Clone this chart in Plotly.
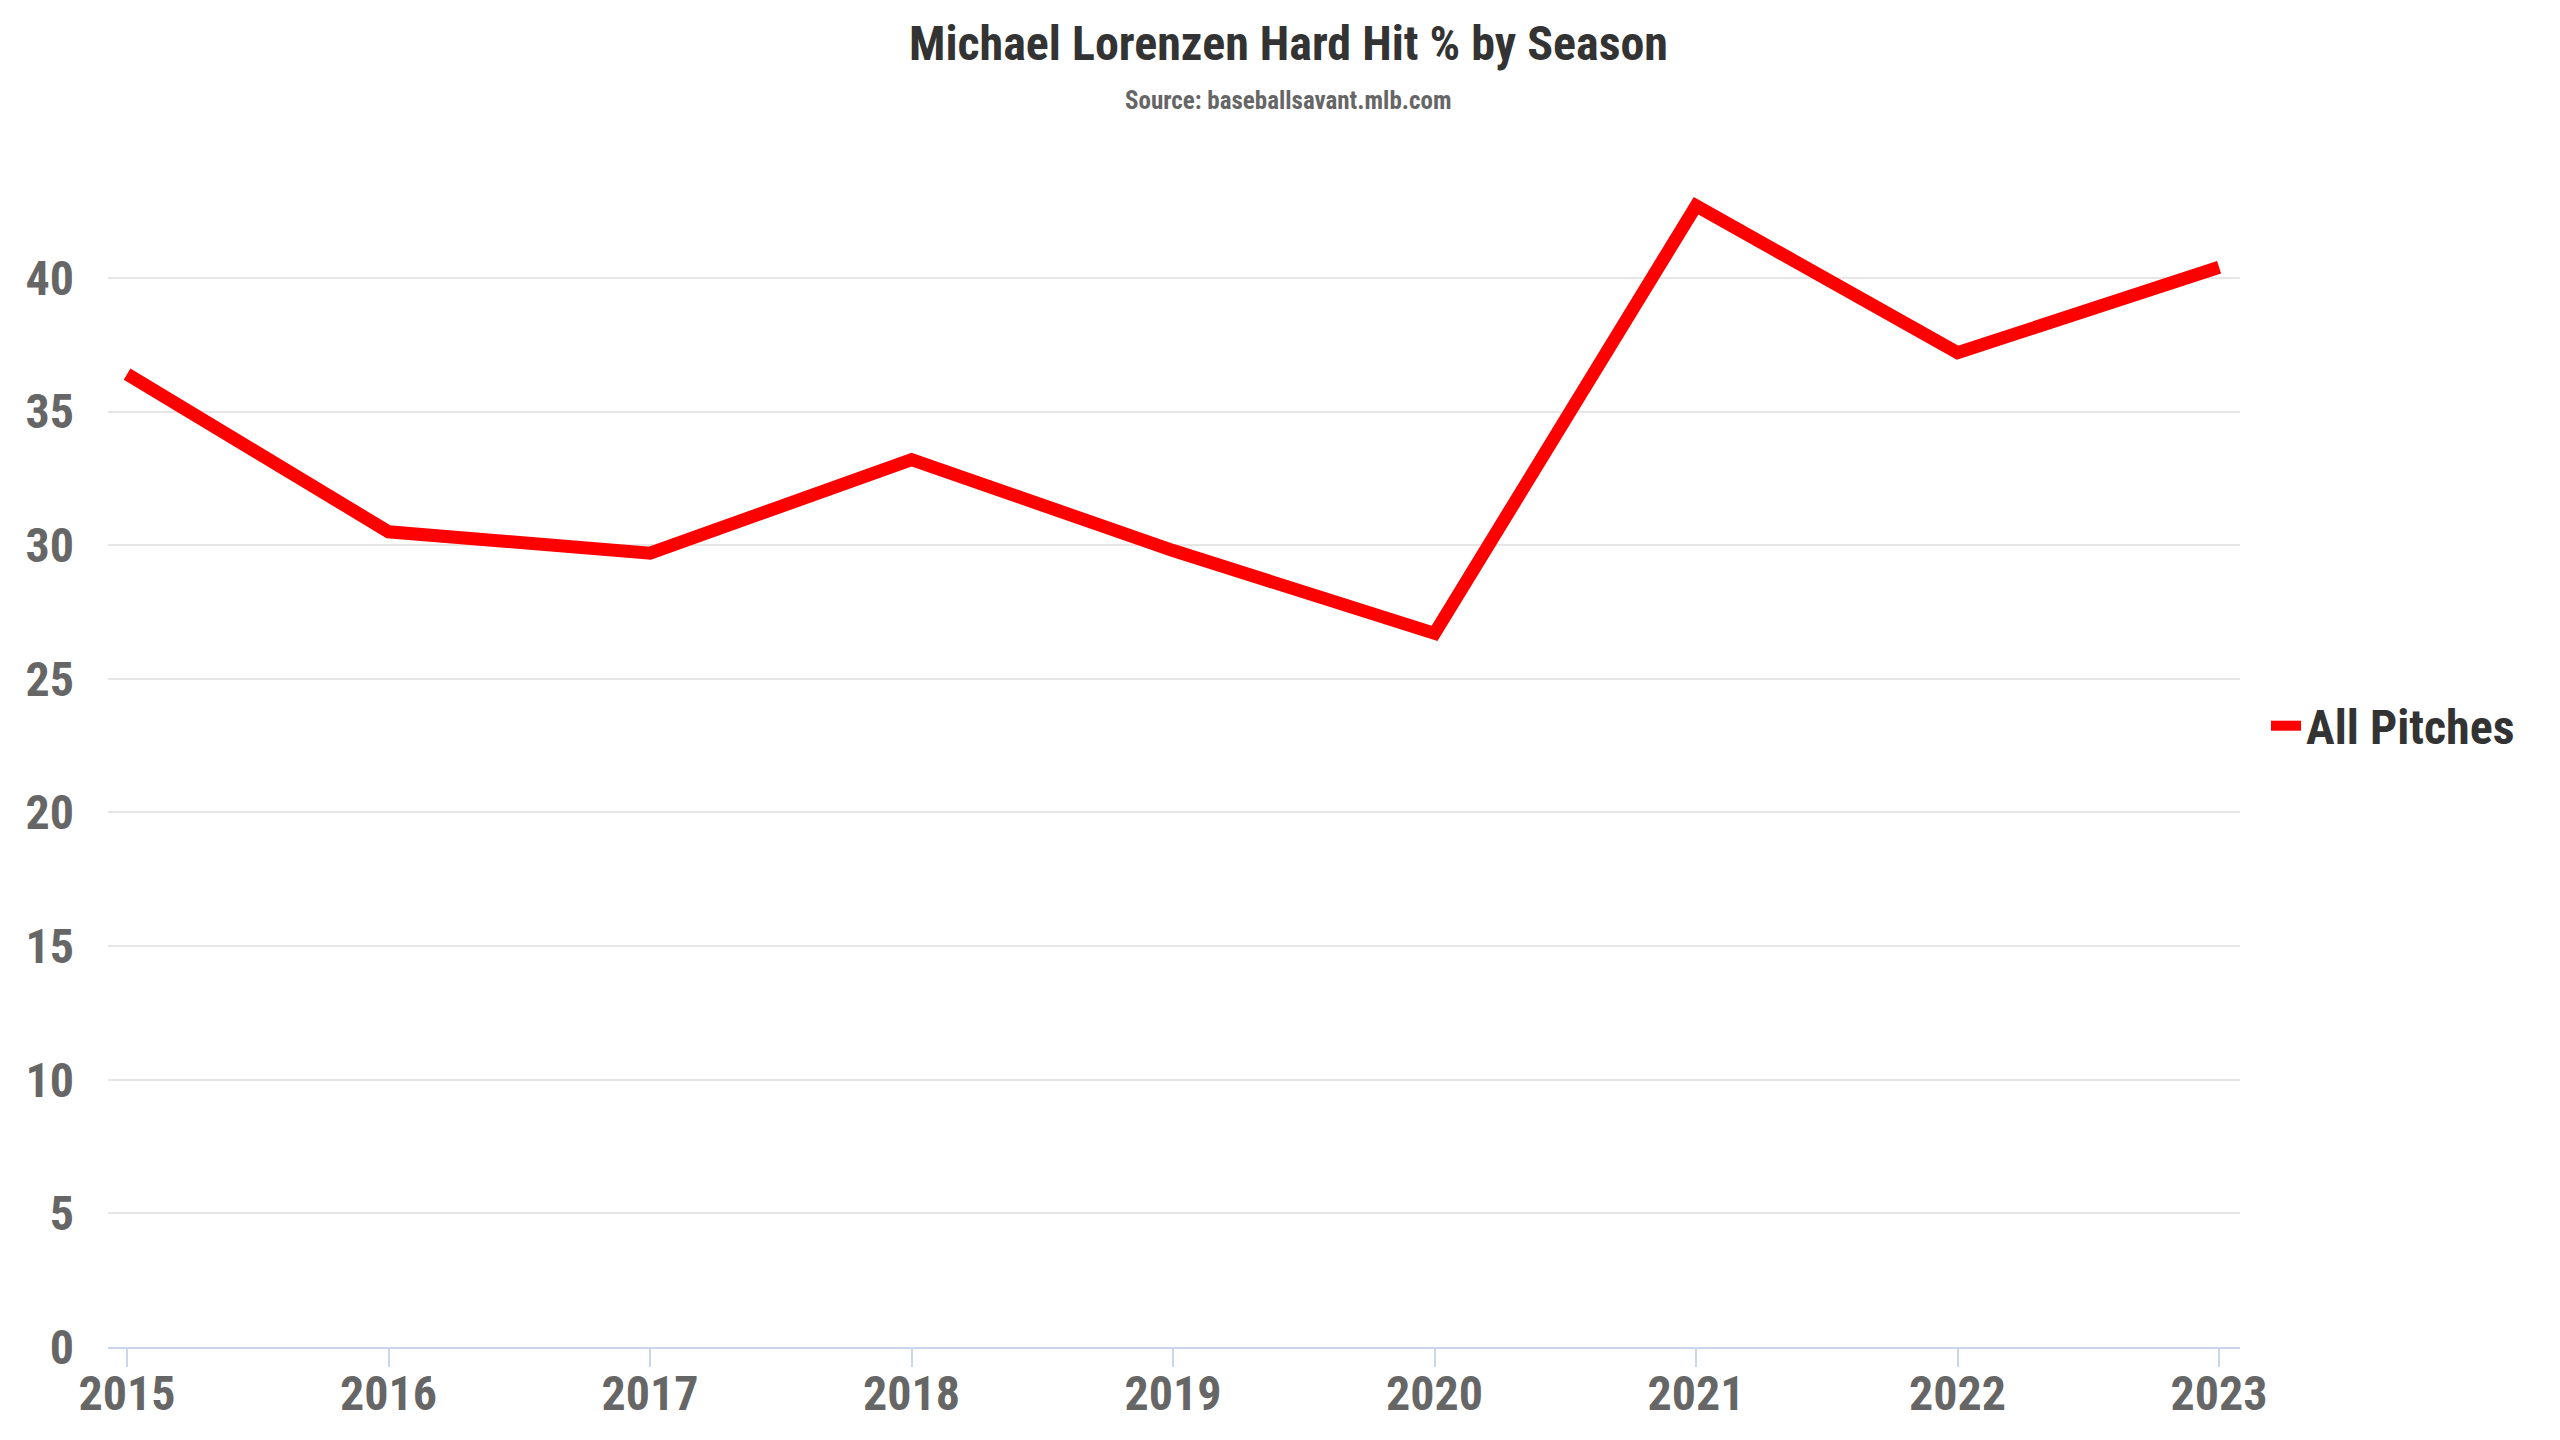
import plotly.graph_objects as go

seasons = [2015, 2016, 2017, 2018, 2019, 2020, 2021, 2022, 2023]
hard_hit_pct = [36.4, 30.5, 29.7, 33.2, 29.8, 26.7, 42.7, 37.2, 40.4]
y_ticks = [0, 5, 10, 15, 20, 25, 30, 35, 40]
series_name = "All Pitches"
title_text = "Michael Lorenzen Hard Hit % by Season"
subtitle_text = "Source: baseballsavant.mlb.com"

FONT = "Roboto Condensed, Liberation Sans Narrow, Arial Narrow, DejaVu Sans Condensed, sans-serif"

W, H = 2560, 1440
ML, MR, MT, MB = 100, 328, 163, 101
plot_w = W - ML - MR
plot_h = H - MT - MB

fig = go.Figure()
fig.add_trace(go.Scatter(
    x=seasons, y=hard_hit_pct, mode="lines", name=series_name,
    line=dict(color="#ff0000", width=13),
))


def px_to_paper_y(ypx):
    return (H - MB - ypx) / plot_h


def px_to_paper_x(xpx):
    return (xpx - ML) / plot_w


fig.update_layout(
    width=W, height=H,
    paper_bgcolor="white", plot_bgcolor="white",
    margin=dict(l=ML, r=MR, t=MT, b=MB),
    font=dict(family=FONT),
    showlegend=True,
    legend=dict(x=px_to_paper_x(2258), xanchor="left",
                y=px_to_paper_y(718), yanchor="middle",
                font=dict(size=48, color="#333333", family=FONT, weight="bold"),
                bgcolor="rgba(0,0,0,0)"),
    annotations=[
        dict(text=title_text, x=px_to_paper_x(1280), xref="paper",
             y=px_to_paper_y(35), yref="paper",
             showarrow=False, yanchor="middle", xanchor="center",
             font=dict(size=48, color="#333333", family=FONT, weight="bold")),
        dict(text=subtitle_text, x=px_to_paper_x(1280), xref="paper",
             y=px_to_paper_y(93), yref="paper",
             showarrow=False, yanchor="middle", xanchor="center",
             font=dict(size=25, color="#666666", family=FONT, weight="bold")),
    ],
)

fig.update_xaxes(
    range=[2014.927, 2023.08], tickvals=seasons, ticktext=[str(s) for s in seasons],
    showgrid=False, zeroline=False,
    showline=True, linecolor="#ccd6eb", linewidth=2,
    ticks="outside", ticklen=18, tickwidth=2, tickcolor="#ccd6eb",
    ticklabelstandoff=-15,
    tickfont=dict(size=48, color="#666666", family=FONT, weight="bold"),
)
fig.update_yaxes(
    range=[0, 44], tickvals=y_ticks,
    showgrid=True, gridcolor="#e6e6e6", gridwidth=2,
    zeroline=False, showline=False, ticks="",
    ticklabelstandoff=33,
    tickfont=dict(size=48, color="#666666", family=FONT, weight="bold"),
)

fig.write_html("out.html")
